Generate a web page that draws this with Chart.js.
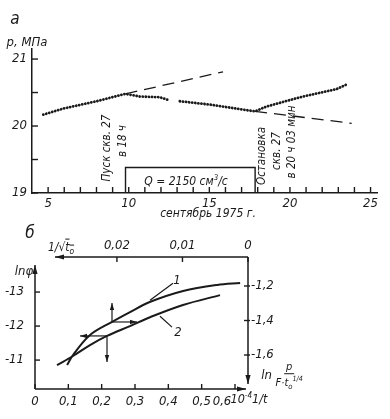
<!DOCTYPE html>
<html><head><meta charset="utf-8">
<script src="https://cdn.jsdelivr.net/npm/chart.js@4.4.1/dist/chart.umd.min.js"></script>
<style>
html,body{margin:0;padding:0;background:#fff;}
#wrap{position:relative;width:390px;height:419px;overflow:hidden;font-family:"Liberation Sans Narrow","DejaVu Sans Condensed","Liberation Sans",sans-serif;font-style:italic;color:#1a1a1a;}
canvas{position:absolute;left:0;top:0;}
.t{position:absolute;white-space:nowrap;line-height:1;}
.frac{display:inline-flex;flex-direction:column;align-items:center;vertical-align:middle;font-size:11px;}
.frac .num{padding:0 2px 1px;border-bottom:1px solid #1a1a1a;}
.frac .den{padding-top:1px;}
sup{font-size:0.65em;}
sub{font-size:0.7em;}
.ov{text-decoration:overline;}
</style></head><body>
<div id="wrap">
<canvas id="ca" width="390" height="419"></canvas>
<canvas id="cb" width="390" height="419"></canvas>
</div>
<script>
// ---------- Panel а: pressure vs date (September 1975) ----------
const dotDays      = [4.70, 5.94, 8.01, 9.80, 10.69, 11.93, 12.44, 12.80, 13.17, 15.03, 17.51, 17.84, 18.54, 19.88, 20.81, 22.88, 23.60];
const dotPressure  = [20.17, 20.26, 20.37, 20.48, 20.44, 20.43, 20.39, null, 20.37, 20.32, 20.23, 20.22, 20.29, 20.38, 20.44, 20.55, 20.63];
const trendUpDays  = [9.80, 15.85];
const trendUpP     = [20.48, 20.81];
const trendDnDays  = [17.84, 23.83];
const trendDnP     = [20.22, 20.04];
const flowDays     = [9.80, 9.80, 17.84, 17.84];
const flowLevel    = [19.00, 19.38, 19.38, 19.00];
const aDayTicks    = [5,6,7,8,9,10,11,12,13,14,15,16,17,18,19,20,21,22,23,24,25];
const aPTicks      = [19, 19.5, 20, 20.5, 21];

// ---------- Panel б ----------
// curve 1: top axis 1/sqrt(t0), right axis ln(p/(F t0^1/4))
const curve1InvSqrt = [0.0276, 0.0267, 0.0241, 0.0208, 0.0180, 0.0150, 0.0099, 0.0047, 0.0012];
const curve1LnP     = [-1.658, -1.600, -1.484, -1.409, -1.351, -1.293, -1.229, -1.194, -1.183];
// curve 2: bottom axis 1/t (10^-4), left axis ln(phi)
const curve2InvT    = [0.066, 0.114, 0.165, 0.216, 0.285, 0.345, 0.444, 0.555];
const curve2LnPhi   = [-10.85, -11.12, -11.44, -11.71, -12.00, -12.26, -12.62, -12.91];
const bInvTTicks    = [0, 0.1, 0.2, 0.3, 0.4, 0.5, 0.6];
const bInvSqrtTicks = [0, 0.01, 0.02];
const bLnPhiTicks   = [-13, -12, -11];
const bLnPTicks     = [-1.6, -1.4, -1.2];
// pointer arrows and leader lines, in (1/t, ln phi) coordinates
const pointerArrows = [
  {from:[0.231,-12.12], to:[0.231,-12.68]},
  {from:[0.231,-12.12], to:[0.306,-12.12]},
  {from:[0.216,-11.71], to:[0.135,-11.71]},
  {from:[0.216,-11.71], to:[0.216,-10.94]}
];
const leaderLines = [
  {from:[0.345,-12.76], to:[0.414,-13.26]},
  {from:[0.375,-12.29], to:[0.411,-11.97]}
];

const INK = '#1a1a1a';
const FONT = '"Liberation Sans Narrow","DejaVu Sans Condensed","Liberation Sans",sans-serif';
const zip = (xs, ys) => xs.map((x, i) => ({x, y: ys[i]}));
const comma = v => String(Math.round(v*1000)/1000).replace('.', ',');
const setTicks = vals => s => { s.ticks = vals.map(v => ({value: v})); };

function arrow(ctx, x1, y1, x2, y2, len, half) {
  ctx.beginPath(); ctx.moveTo(x1, y1); ctx.lineTo(x2, y2); ctx.stroke();
  const a = Math.atan2(y2 - y1, x2 - x1);
  ctx.beginPath();
  ctx.moveTo(x2, y2);
  ctx.lineTo(x2 - len*Math.cos(a) + half*Math.sin(a), y2 - len*Math.sin(a) - half*Math.cos(a));
  ctx.lineTo(x2 - len*Math.cos(a) - half*Math.sin(a), y2 - len*Math.sin(a) + half*Math.cos(a));
  ctx.closePath(); ctx.fill();
}

const overlay = {
  id: 'overlay',
  afterDatasetsDraw(chart, args, o) {
    const ctx = chart.ctx, ca = chart.chartArea;
    ctx.save();
    ctx.strokeStyle = INK; ctx.fillStyle = INK; ctx.lineWidth = 1.4;
    (o.marks || []).forEach(m => {
      const s = chart.scales[m.scale];
      s.ticks.forEach(t => {
        const p = s.getPixelForValue(t.value);
        ctx.beginPath();
        if (s.isHorizontal()) {
          const y0 = s.position === 'top' ? ca.top : ca.bottom;
          ctx.moveTo(p, y0 + m.from); ctx.lineTo(p, y0 + m.to);
        } else {
          const x0 = s.position === 'right' ? ca.right : ca.left;
          ctx.moveTo(x0 + m.from, p); ctx.lineTo(x0 + m.to, p);
        }
        ctx.stroke();
      });
    });
    if (o.axes) {
      ctx.lineWidth = 1.5;
      arrow(ctx, ca.left, ca.bottom, ca.left, ca.top + 8, 9, 2.6);
      arrow(ctx, ca.left, ca.bottom, ca.right - 2, ca.bottom, 9, 2.6);
      arrow(ctx, ca.right, ca.top, ca.left + 20, ca.top, 9, 2.6);
      arrow(ctx, ca.right, ca.top, ca.right, ca.bottom - 5, 9, 2.6);
    }
    if (o.pointers) {
      const sx = chart.scales.x, sy = chart.scales.y;
      ctx.lineWidth = 1.2;
      o.pointers.forEach(a => arrow(ctx, sx.getPixelForValue(a.from[0]), sy.getPixelForValue(a.from[1]),
                                         sx.getPixelForValue(a.to[0]), sy.getPixelForValue(a.to[1]), 7, 2.2));
      (o.leaders || []).forEach(a => {
        ctx.beginPath();
        ctx.moveTo(sx.getPixelForValue(a.from[0]), sy.getPixelForValue(a.from[1]));
        ctx.lineTo(sx.getPixelForValue(a.to[0]), sy.getPixelForValue(a.to[1]));
        ctx.stroke();
      });
    }
    ctx.restore();
  }
};

const tickFont = {family: FONT, size: 13, style: 'italic'};

new Chart(document.getElementById('ca'), {
  type: 'line',
  data: {datasets: [
    {data: zip(dotDays, dotPressure), borderColor: INK, borderWidth: 2.8, borderDash: [0.1, 3.0], borderCapStyle: 'round', pointRadius: 0, tension: 0, spanGaps: false},
    {data: zip(trendUpDays, trendUpP), borderColor: INK, borderWidth: 1.3, borderDash: [12, 7], pointRadius: 0},
    {data: zip(trendDnDays, trendDnP), borderColor: INK, borderWidth: 1.3, borderDash: [12, 7], pointRadius: 0},
    {data: zip(flowDays, flowLevel), borderColor: INK, borderWidth: 1.4, pointRadius: 0, tension: 0}
  ]},
  options: {
    responsive: false, animation: false, devicePixelRatio: 1,
    layout: {padding: {top: 49, right: 13, left: 0, bottom: 0}},
    plugins: {legend: {display: false}, tooltip: {enabled: false},
      overlay: {marks: [{scale: 'x', from: 0, to: -6}, {scale: 'y', from: 0, to: 6}]}},
    scales: {
      x: {type: 'linear', min: 4, max: 25.4, afterBuildTicks: setTicks(aDayTicks),
          afterFit: s => { s.height = 226; s.paddingLeft = 0; s.paddingRight = 0; },
          grid: {display: false, drawTicks: false}, border: {display: true, color: INK, width: 1.5},
          ticks: {color: INK, font: tickFont, padding: 3, maxRotation: 0, autoSkip: false,
                  callback: v => (v % 5 === 0 ? String(v) : '')}},
      y: {type: 'linear', min: 19, max: 21.15, afterBuildTicks: setTicks(aPTicks),
          afterFit: s => { s.width = 32; s.paddingTop = 0; s.paddingBottom = 0; },
          grid: {display: false, drawTicks: false}, border: {display: true, color: INK, width: 1.5},
          ticks: {color: INK, font: tickFont, padding: 5, autoSkip: false,
                  callback: v => (Number.isInteger(v) ? String(v) : '')}}
    }
  },
  plugins: [overlay]
});

new Chart(document.getElementById('cb'), {
  type: 'line',
  data: {datasets: [
    {data: zip(curve1InvSqrt, curve1LnP), xAxisID: 'x2', yAxisID: 'y2', borderColor: INK, borderWidth: 2, pointRadius: 0, tension: 0.35},
    {data: zip(curve2InvT, curve2LnPhi), xAxisID: 'x', yAxisID: 'y', borderColor: INK, borderWidth: 2, pointRadius: 0, tension: 0.35}
  ]},
  options: {
    responsive: false, animation: false, devicePixelRatio: 1,
    layout: {padding: 0},
    plugins: {legend: {display: false}, tooltip: {enabled: false},
      overlay: {axes: true, pointers: pointerArrows, leaders: leaderLines,
        marks: [{scale: 'x', from: 0, to: -5}, {scale: 'x2', from: 0, to: 5},
                {scale: 'y', from: 0, to: 5}, {scale: 'y2', from: -4, to: 2}]}},
    scales: {
      x: {type: 'linear', position: 'bottom', min: 0, max: 0.639, afterBuildTicks: setTicks(bInvTTicks),
          afterFit: s => { s.height = 30; s.paddingLeft = 0; s.paddingRight = 0; },
          grid: {display: false, drawTicks: false}, border: {display: false},
          ticks: {color: INK, font: tickFont, padding: 5, maxRotation: 0, autoSkip: false,
                  callback: v => (v === 0.6 ? '' : comma(v))}},
      x2: {type: 'linear', position: 'top', reverse: true, min: 0, max: 0.0325, afterBuildTicks: setTicks(bInvSqrtTicks),
          afterFit: s => { s.height = 257; s.paddingLeft = 0; s.paddingRight = 0; },
          grid: {display: false, drawTicks: false}, border: {display: false},
          ticks: {color: INK, font: tickFont, padding: 4, maxRotation: 0, autoSkip: false, callback: v => comma(v)}},
      y: {type: 'linear', position: 'left', reverse: true, min: -14.03, max: -10.15, afterBuildTicks: setTicks(bLnPhiTicks),
          afterFit: s => { s.width = 35; s.paddingTop = 0; s.paddingBottom = 0; },
          grid: {display: false, drawTicks: false}, border: {display: false},
          ticks: {color: INK, font: tickFont, padding: 11, autoSkip: false, callback: v => comma(v)}},
      y2: {type: 'linear', position: 'right', min: -1.797, max: -1.032, afterBuildTicks: setTicks(bLnPTicks),
          afterFit: s => { s.width = 142; s.paddingTop = 0; s.paddingBottom = 0; },
          grid: {display: false, drawTicks: false}, border: {display: false},
          ticks: {color: INK, font: tickFont, padding: 3, autoSkip: false, callback: v => comma(v)}}
    }
  },
  plugins: [overlay]
});

// ---------- text annotations ----------
const labels = [
  {h: 'а', x: 15, y: 18, s: 17},
  {h: 'p, МПа', x: 27, y: 41, s: 13},
  {h: 'сентябрь 1975 г.', x: 208, y: 213, s: 12},
  {h: 'Q = 2150 см<sup>3</sup>/с', x: 186, y: 180, s: 12},
  {h: 'Пуск скв. 27', x: 107, y: 148, s: 11.5, r: true},
  {h: 'в 18 ч', x: 123, y: 141, s: 11.5, r: true},
  {h: 'Остановка', x: 262, y: 156, s: 11.5, r: true},
  {h: 'скв. 27', x: 277, y: 151, s: 11.5, r: true},
  {h: 'в 20 ч 03 мин', x: 292, y: 142, s: 11.5, r: true},
  {h: 'б', x: 30, y: 232, s: 17},
  {h: '1/√<span class="ov">t<sub>o</sub></span>', x: 61, y: 248, s: 12},
  {h: 'lnφ', x: 24, y: 270, s: 13},
  {h: '1', x: 177, y: 279, s: 13},
  {h: '2', x: 178, y: 331, s: 13},
  {h: '0,6', x: 222, y: 400, s: 13},
  {h: '10<sup>-4</sup>1/t', x: 249, y: 398, s: 12.5},
  {h: 'ln <span class="frac"><span class="num">p</span><span class="den">F·t<sub>o</sub><sup>1/4</sup></span></span>', x: 282, y: 376, s: 13}
];
const wrap = document.getElementById('wrap');
labels.forEach(l => {
  const d = document.createElement('div');
  d.className = 't';
  d.innerHTML = l.h;
  d.style.left = l.x + 'px'; d.style.top = l.y + 'px'; d.style.fontSize = l.s + 'px';
  d.style.transform = 'translate(-50%,-50%)' + (l.r ? ' rotate(-90deg)' : '');
  wrap.appendChild(d);
});
</script>
</body></html>
